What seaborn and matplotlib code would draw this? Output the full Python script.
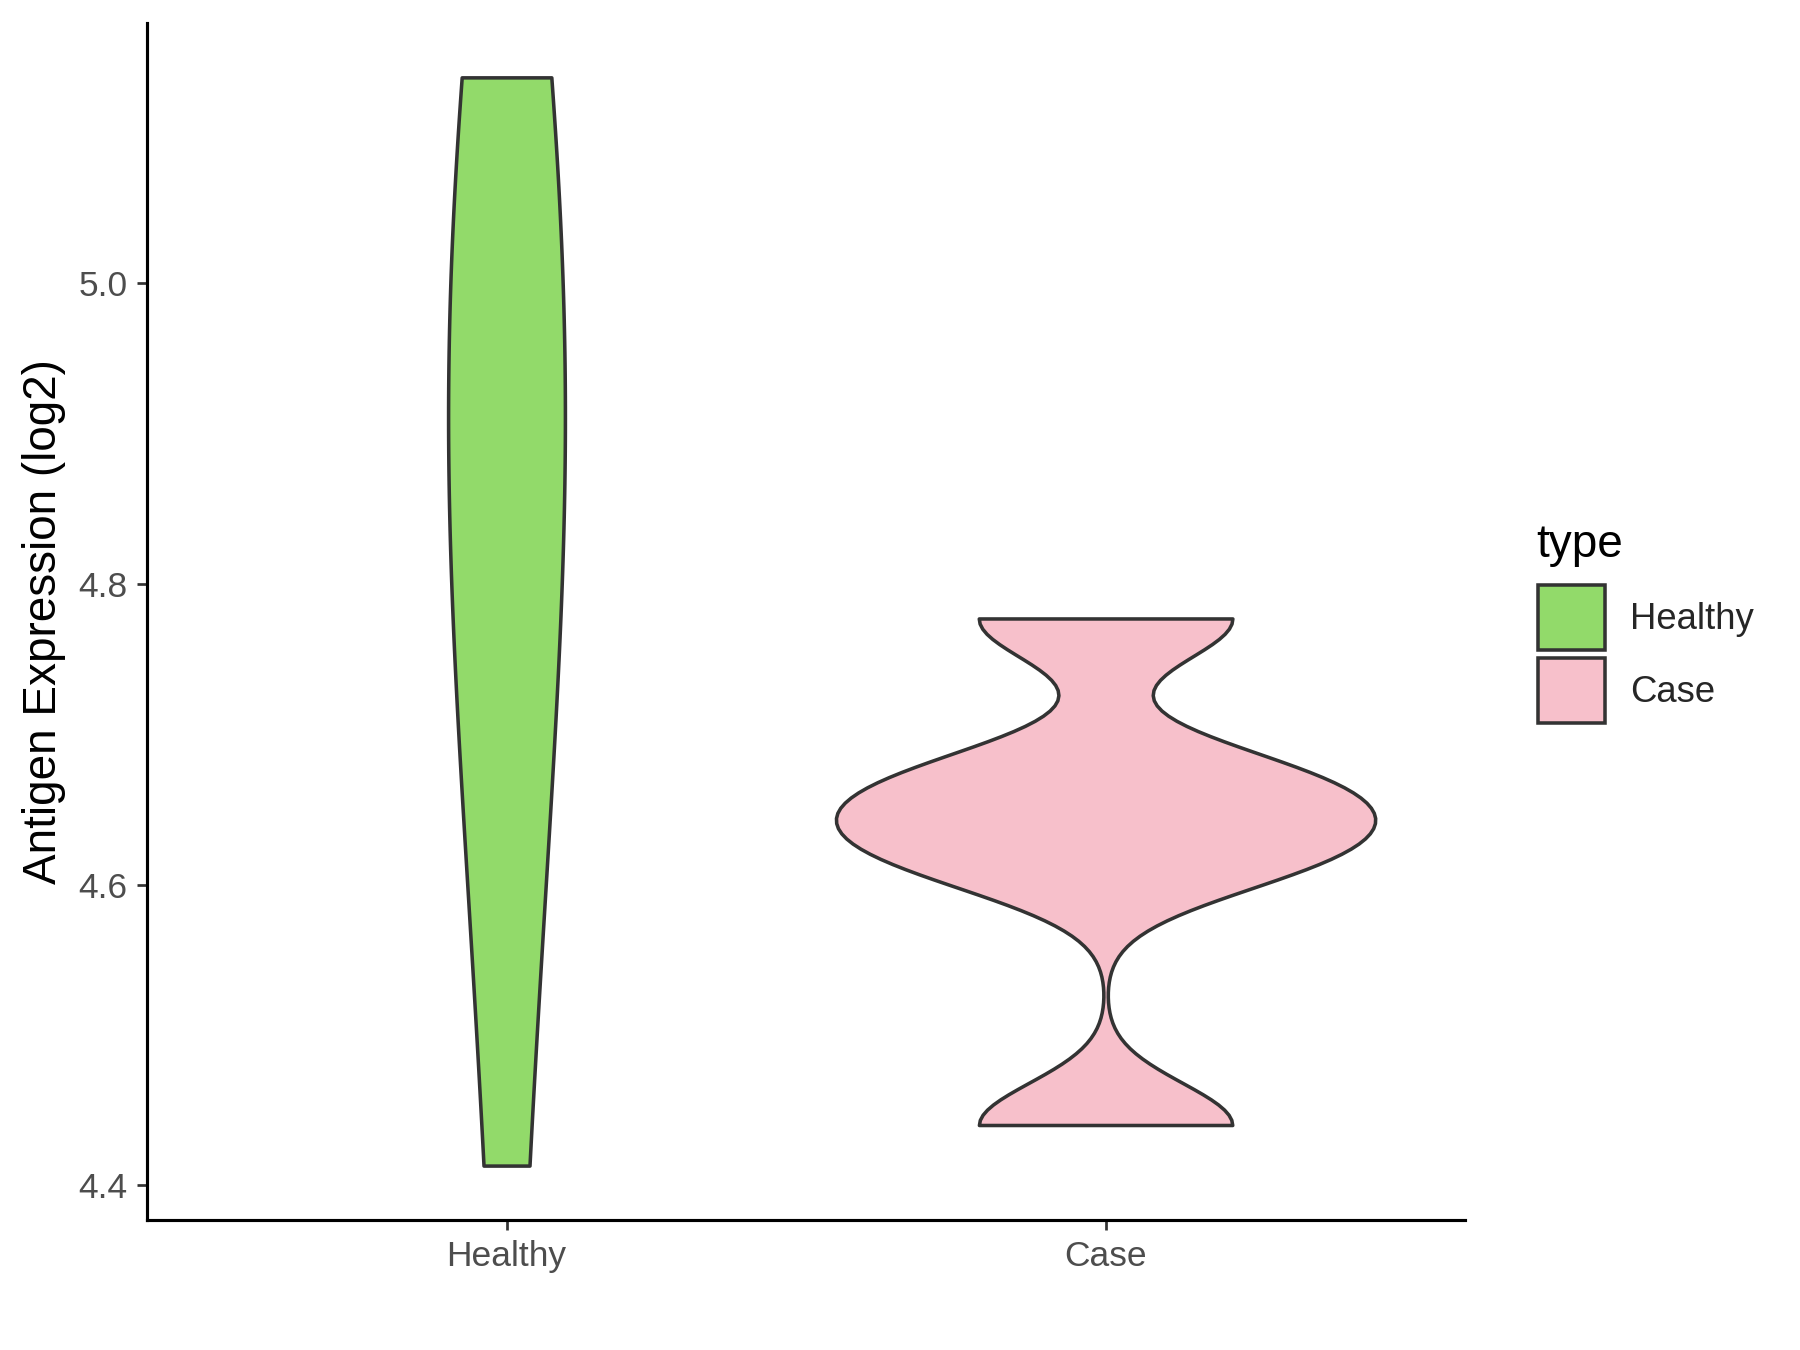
import seaborn as sns
import matplotlib.pyplot as plt
import pandas as pd
from matplotlib.patches import Patch

# values (approximate samples)
groups = ["Healthy", "Case"]
healthy_vals = [4.413, 4.62, 4.76, 4.84, 4.90, 4.95, 5.02, 5.08, 5.137]
case_vals = [4.44, 4.613, 4.643, 4.673, 4.777]
colors = ["#92DA6A", "#F7C0CB"]
yticks = [4.4, 4.6, 4.8, 5.0]

df = pd.DataFrame({
    "type": ["Healthy"] * len(healthy_vals) + ["Case"] * len(case_vals),
    "value": healthy_vals + case_vals,
})

sns.set_theme(style="ticks")
plt.rcParams["font.family"] = ["Liberation Sans", "DejaVu Sans"]

fig = plt.figure(figsize=(12, 9), dpi=150)
ax = fig.add_axes([0.0817, 0.0963, 0.7322, 0.8867])

edge = "#333333"
widths = [0.195, 0.9]
bws = [1.68, 0.316]
for g, c, w, bw in zip(groups, colors, widths, bws):
    sns.violinplot(data=df[df["type"] == g], x="type", y="value", order=groups,
                   color=c, saturation=1, width=w, bw_adjust=bw, cut=0,
                   inner=None, linecolor=edge, linewidth=1.7, ax=ax)

lo, hi = df["value"].min(), df["value"].max()
pad = (hi - lo) * 0.05
ax.set_ylim(lo - pad, hi + pad)
ax.set_xlim(-0.6, 1.6)
ax.set_yticks(yticks)
ax.set_yticklabels([f"{t:.1f}" for t in yticks])

ax.set_xlabel("")
ax.set_ylabel("Antigen Expression (log2)", fontsize=22, color="black", labelpad=6)
ax.tick_params(axis="both", labelsize=17, labelcolor="#4D4D4D", color=edge,
               length=5, width=1.3, pad=4.5)
sns.despine(ax=ax)
for s in ["left", "bottom"]:
    ax.spines[s].set_linewidth(1.5)
    ax.spines[s].set_color("black")

# legend: title as its own text, keys below
fig.text(1536 / 1800, 1 - 557 / 1350, "type", fontsize=22, va="baseline",
         ha="left", color="black")
handles = [Patch(facecolor=c, edgecolor=edge, linewidth=1.7, label=g)
           for g, c in zip(groups, colors)]
fig.legend(handles=handles, loc="upper left",
           bbox_to_anchor=(1538 / 1800, 1 - 585 / 1350), frameon=False,
           fontsize=17.5, handlelength=1.83, handleheight=2.385,
           labelspacing=0.2, handletextpad=0.7, borderpad=0, borderaxespad=0)

fig.savefig("out.png", dpi=150)
